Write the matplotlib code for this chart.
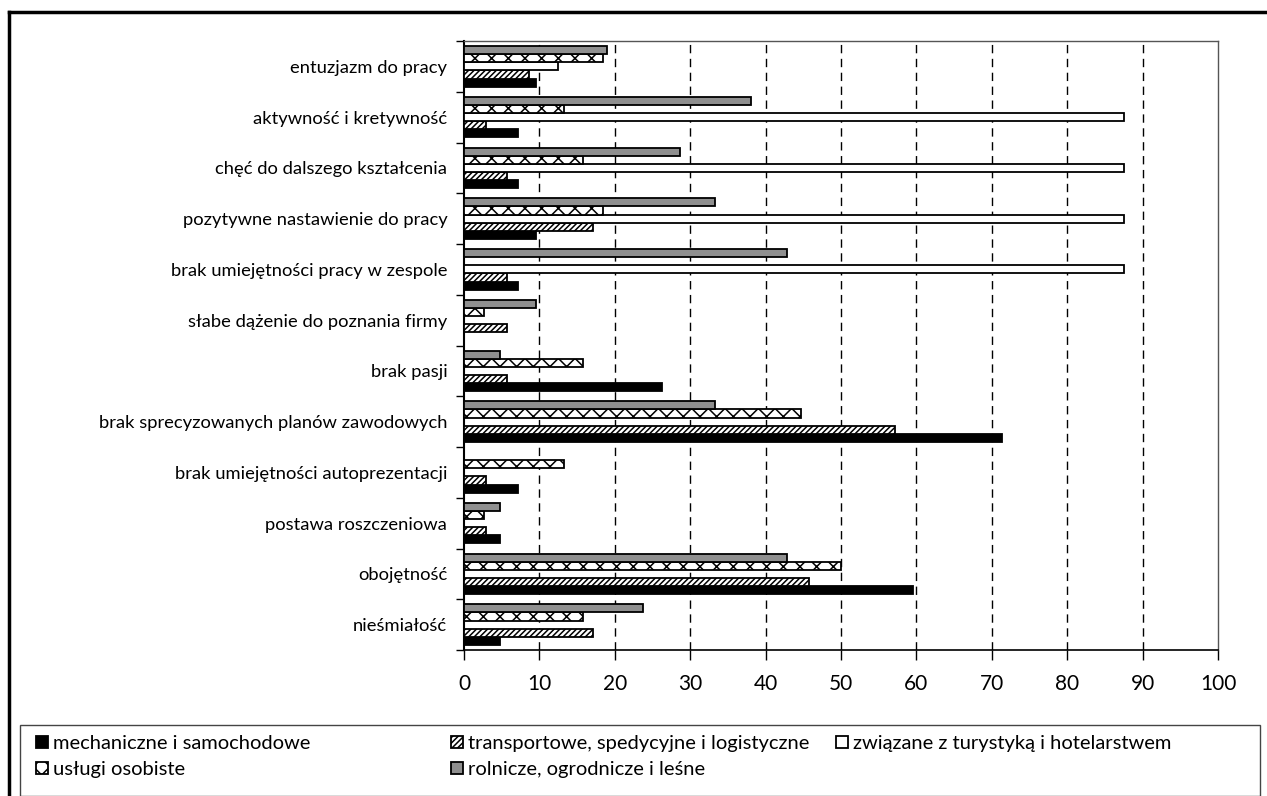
import matplotlib
matplotlib.use('Agg')
import matplotlib.pyplot as plt
from matplotlib.patches import Patch, Rectangle
from matplotlib.lines import Line2D
import numpy as np

plt.rcParams['font.family'] = ['Lato', 'DejaVu Sans']
plt.rcParams['hatch.linewidth'] = 1.1

# ---- data ----
categories = [
    'entuzjazm do pracy',
    'aktywność i kretywność',
    'chęć do dalszego kształcenia',
    'pozytywne nastawienie do pracy',
    'brak umiejętności pracy w zespole',
    'słabe dążenie do poznania firmy',
    'brak pasji',
    'brak sprecyzowanych planów zawodowych',
    'brak umiejętności autoprezentacji',
    'postawa roszczeniowa',
    'obojętność',
    'nieśmiałość',
]
mechaniczne = [9.5, 7.1, 7.1, 9.5, 7.1, 0, 26.2, 71.4, 7.1, 4.8, 59.5, 4.8]
transportowe = [8.6, 2.9, 5.7, 17.1, 5.7, 5.7, 5.7, 57.1, 2.9, 2.9, 45.7, 17.1]
turystyka = [12.5, 87.5, 87.5, 87.5, 87.5, 0, 0, 0, 0, 0, 0, 0]
uslugi = [18.4, 13.2, 15.8, 18.4, 0, 2.6, 15.8, 44.7, 13.2, 2.6, 50.0, 15.8]
rolnicze = [19.0, 38.1, 28.6, 33.3, 42.9, 9.5, 4.8, 33.3, 0, 4.8, 42.9, 23.8]

series_labels = [
    'mechaniczne i samochodowe',
    'transportowe, spedycyjne i logistyczne',
    'związane z turystyką i hotelarstwem',
    'usługi osobiste',
    'rolnicze, ogrodnicze i leśne',
]
x_ticks = [0, 10, 20, 30, 40, 50, 60, 70, 80, 90, 100]

# ---- styles (bottom to top inside a group) ----
STYLES = [
    dict(facecolor='black', hatch=None),
    dict(facecolor='white', hatch='//////'),
    dict(facecolor='white', hatch=None),
    dict(facecolor='white', hatch='xx'),
    dict(facecolor='#8f8f8f', hatch=None),
]

fig = plt.figure(figsize=(12.67, 7.96), dpi=100)
ax = fig.add_axes([464 / 1267, 1 - 650 / 796, (1218 - 464) / 1267, (650 - 41) / 796])

y = np.arange(len(categories))
h = 0.16
all_series = [mechaniczne, transportowe, turystyka, uslugi, rolnicze]
for k, (vals, st) in enumerate(zip(all_series, STYLES)):
    offs = (2 - k) * h
    ax.barh(y + offs, vals, height=h, color=st['facecolor'], hatch=st['hatch'],
            edgecolor='black', linewidth=1.3, zorder=3)

ax.set_ylim(len(categories) - 0.5, -0.5)
ax.set_xlim(0, 100)

# dashed grid
for v in x_ticks[1:-1]:
    ax.axvline(v, color='black', linestyle=(0, (6, 4)), linewidth=1.0, zorder=1)

ax.set_xticks(x_ticks)
ax.tick_params(axis='x', direction='out', length=7, width=1, pad=10, labelsize=15)
ax.set_yticks(y)
ax.set_yticklabels(categories, fontsize=13.2)
ax.tick_params(axis='y', length=0, pad=12)
ax.set_yticks(np.arange(len(categories) + 1) - 0.5, minor=True)
ax.tick_params(axis='y', which='minor', direction='out', length=6, width=1)

for s in ['top', 'right']:
    ax.spines[s].set_color('#555555')
    ax.spines[s].set_linewidth(1.0)
ax.spines['left'].set_linewidth(1.5)
ax.spines['bottom'].set_linewidth(1.2)

# outer frame (top and left)
fig.add_artist(Line2D([9 / 1267, 1], [1 - 12 / 796, 1 - 12 / 796],
                      transform=fig.transFigure, color='black', linewidth=2.5))
fig.add_artist(Line2D([9 / 1267, 9 / 1267], [0, 1 - 12 / 796],
                      transform=fig.transFigure, color='black', linewidth=2.5))

# legend box
fig.add_artist(Rectangle((20 / 1267, 0.5 / 796), (1260 - 20) / 1267, (796 - 725) / 796,
                         transform=fig.transFigure, fill=False,
                         edgecolor='#444444', linewidth=1.0))

handles = [Patch(facecolor=st['facecolor'], hatch=st['hatch'], edgecolor='black',
                 linewidth=1.3) for st in STYLES]
columns = [(36, [0, 3]), (451, [1, 4]), (836, [2])]
for xpix, idx in columns:
    fig.legend([handles[i] for i in idx], [series_labels[i] for i in idx],
               loc='upper left', bbox_to_anchor=(xpix / 1267, 1 - 735 / 796),
               frameon=False, fontsize=14.5, handlelength=0.6, handleheight=0.6,
               handletextpad=0.25, labelspacing=0.45, borderpad=0, borderaxespad=0)

fig.savefig('out.png', dpi=100, facecolor='white')
